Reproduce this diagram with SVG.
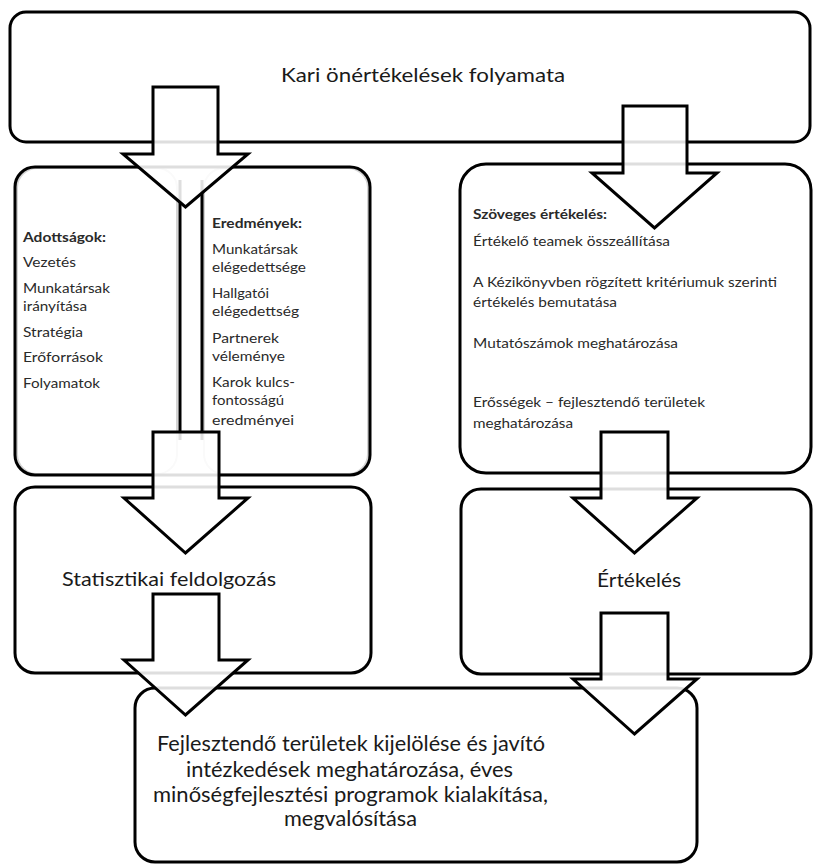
<svg xmlns="http://www.w3.org/2000/svg" width="813" height="868" viewBox="0 0 813 868">
<style>
.box{fill:#fff;stroke:#000;stroke-width:3}
.edge{fill:none;stroke:#000;stroke-width:3}
.pane{fill:none;stroke:#d4d4d4;stroke-width:2}
.div{stroke:#000;stroke-width:3}
.arr{fill:#fff;fill-opacity:0.87;stroke:#000;stroke-width:3;stroke-linejoin:miter}
text{font-family:Lato,"Liberation Sans",sans-serif;fill:#1a1a1a}
.s{font-size:14px;fill:#2a2a2a}
.b{font-weight:bold}
.m{font-size:19px}
.l{font-size:20.5px}
</style>
<rect x="0" y="0" width="813" height="868" fill="#fff"/>
<g id="node-top">
<rect class="box" x="10" y="12" width="800" height="130" rx="16"/>
<text x="281" y="82" font-size="20" textLength="284" lengthAdjust="spacingAndGlyphs">Kari önértékelések folyamata</text>
</g>
<g id="node-adottsagok-eredmenyek">
<rect x="15" y="167" width="355" height="308" rx="20" fill="#fff"/>
<rect class="pane" x="17" y="168" width="160" height="306" rx="20"/>
<rect class="pane" x="204" y="168" width="164" height="306" rx="20"/>
<rect class="edge" x="15" y="167" width="355" height="308" rx="20"/>
<line class="div" x1="180" y1="180" x2="180" y2="440"/>
<line class="div" x1="202" y1="180" x2="202" y2="440"/>
<text class="s b" x="23" y="242" textLength="83" lengthAdjust="spacingAndGlyphs">Adottságok:</text>
<text class="s" x="23" y="267" textLength="53" lengthAdjust="spacingAndGlyphs">Vezetés</text>
<text class="s" x="23" y="293" textLength="87" lengthAdjust="spacingAndGlyphs">Munkatársak</text>
<text class="s" x="23" y="311" textLength="64" lengthAdjust="spacingAndGlyphs">irányítása</text>
<text class="s" x="23" y="337" textLength="60" lengthAdjust="spacingAndGlyphs">Stratégia</text>
<text class="s" x="23" y="362" textLength="80" lengthAdjust="spacingAndGlyphs">Erőforrások</text>
<text class="s" x="23" y="388" textLength="77" lengthAdjust="spacingAndGlyphs">Folyamatok</text>
<text class="s b" x="212" y="228" textLength="90" lengthAdjust="spacingAndGlyphs">Eredmények:</text>
<text class="s" x="212" y="254" textLength="86" lengthAdjust="spacingAndGlyphs">Munkatársak</text>
<text class="s" x="212" y="272" textLength="94" lengthAdjust="spacingAndGlyphs">elégedettsége</text>
<text class="s" x="212" y="298" textLength="57" lengthAdjust="spacingAndGlyphs">Hallgatói</text>
<text class="s" x="212" y="316" textLength="87" lengthAdjust="spacingAndGlyphs">elégedettség</text>
<text class="s" x="212" y="343" textLength="67" lengthAdjust="spacingAndGlyphs">Partnerek</text>
<text class="s" x="212" y="361" textLength="73" lengthAdjust="spacingAndGlyphs">véleménye</text>
<text class="s" x="212" y="387" textLength="83" lengthAdjust="spacingAndGlyphs">Karok kulcs-</text>
<text class="s" x="212" y="405" textLength="72" lengthAdjust="spacingAndGlyphs">fontosságú</text>
<text class="s" x="212" y="425" textLength="82" lengthAdjust="spacingAndGlyphs">eredményei</text>
</g>
<g id="node-szoveges">
<rect class="box" x="460" y="164" width="351" height="309" rx="26"/>
<text class="s b" x="473" y="219" textLength="134" lengthAdjust="spacingAndGlyphs">Szöveges értékelés:</text>
<text class="s" x="473" y="246" textLength="197" lengthAdjust="spacingAndGlyphs">Értékelő teamek összeállítása</text>
<text class="s" x="473" y="287" textLength="304" lengthAdjust="spacingAndGlyphs">A Kézikönyvben rögzített kritériumuk szerinti</text>
<text class="s" x="473" y="307" textLength="144" lengthAdjust="spacingAndGlyphs">értékelés bemutatása</text>
<text class="s" x="473" y="348" textLength="205" lengthAdjust="spacingAndGlyphs">Mutatószámok meghatározása</text>
<text class="s" x="473" y="407" textLength="232" lengthAdjust="spacingAndGlyphs">Erősségek – fejlesztendő területek</text>
<text class="s" x="473" y="428" textLength="100" lengthAdjust="spacingAndGlyphs">meghatározása</text>
</g>
<g id="node-statisztikai">
<rect class="box" x="15" y="487" width="356" height="186" rx="20"/>
<text class="m" x="62" y="586" textLength="214" lengthAdjust="spacingAndGlyphs">Statisztikai feldolgozás</text>
</g>
<g id="node-ertekeles">
<rect class="box" x="461" y="489" width="350" height="185" rx="20"/>
<text class="m" x="597" y="587" textLength="84" lengthAdjust="spacingAndGlyphs">Értékelés</text>
</g>
<g id="node-fejlesztendo">
<rect class="box" x="135" y="688" width="562" height="174" rx="20"/>
<text class="l" x="157" y="751" textLength="388" lengthAdjust="spacingAndGlyphs">Fejlesztendő területek kijelölése és javító</text>
<text class="l" x="186" y="777" textLength="327" lengthAdjust="spacingAndGlyphs">intézkedések meghatározása, éves</text>
<text class="l" x="153" y="802" textLength="395" lengthAdjust="spacingAndGlyphs">minőségfejlesztési programok kialakítása,</text>
<text class="l" x="284" y="826" textLength="133" lengthAdjust="spacingAndGlyphs">megvalósítása</text>
</g>
<g id="connectors">
<polygon class="arr" points="153,87 218,87 218,154 248,154 185.5,207 123,154 153,154"/>
<polygon class="arr" points="623,106 687,106 687,173 717,173 654.5,228 592,173 623,173"/>
<polygon class="arr" points="153,432 219,432 219,498 248,498 185.5,553 124,498 153,498"/>
<polygon class="arr" points="601,432 668,432 668,498 697,498 634.5,553 573,498 601,498"/>
<polygon class="arr" points="153,594 219,594 219,660 248,660 185.5,715 124,660 153,660"/>
<polygon class="arr" points="601,613 668,613 668,679 697,679 634.5,734 573,679 601,679"/>
</g>
</svg>
